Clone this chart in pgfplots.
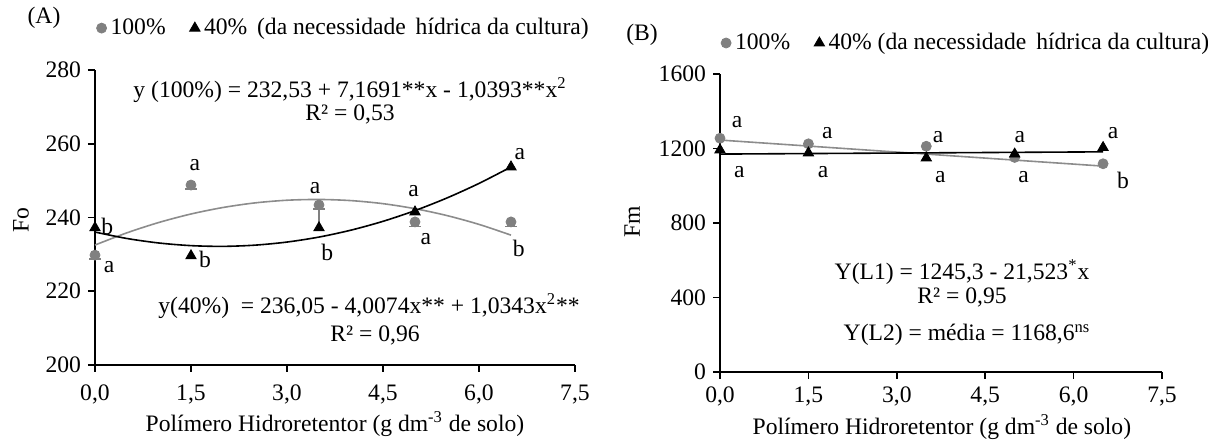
\documentclass[border=0pt]{standalone}
\usepackage{fontspec}
\setmainfont{Liberation Serif}
\usepackage{pgfplots}
\pgfplotsset{compat=1.18}

\definecolor{ptgray}{RGB}{128,128,128}
\definecolor{lngray}{RGB}{140,140,140}

\newcommand{\fs}{\fontsize{11.8}{14}\selectfont}

\pgfplotsset{
  painel/.style={
    scale only axis,
    anchor=south west,
    axis lines*=left,
    axis line style={line width=0.8pt},
    tick style={line width=0.8pt, black},
    tick align=outside,
    major tick length=3.5pt,
    xmin=0, xmax=7.5,
    xtick={0,1.5,3,4.5,6,7.5},
    xticklabels={{0,0},{1,5},{3,0},{4,5},{6,0},{7,5}},
    clip=false,
    font=\fs,
    ticklabel style={font=\fs},
    /pgf/number format/assume math mode=true,
    /pgf/number format/1000 sep={},
    legend columns=2,
    legend style={draw=none, fill=none, anchor=west, font=\fs,
      /tikz/every even column/.append style={column sep=10pt}},
    legend cell align=left,
    xlabel={Polímero Hidroretentor (g dm\textsuperscript{-3} de solo)},
  },
  circ/.style={only marks, mark=*, mark size=2.5pt, color=ptgray},
  tri/.style={only marks, mark=triangle*, mark size=3pt, color=black},
}

\begin{document}
\begin{tikzpicture}
\useasboundingbox (0,0) rectangle (604pt,221pt);

% ---------- (A) Fo ----------
\begin{axis}[painel,
  at={(47.5pt,38.5pt)}, width=240pt, height=147.5pt,
  ymin=200, ymax=280, ytick={200,220,240,260,280},
  xticklabel style={yshift=-3pt},
  ylabel={Fo},
  every axis y label/.style={at={(axis description cs:-0.154,0.49)}, rotate=90, anchor=center},
  every axis x label/.style={at={(axis description cs:0.5,-0.2)}, anchor=center},
  legend style={at={(axis description cs:-0.01,1.142)}},
]
% linhas de tendencia
\addplot[lngray, line width=0.8pt, smooth, forget plot] coordinates {
  (0,232.53) (0.5,235.85) (1,238.66) (1.5,240.95) (2,242.71) (2.5,243.96)
  (3,244.68) (3.5,244.89) (4,244.58) (4.5,243.75) (5,242.39) (5.5,240.52)
  (6,238.13) (6.5,235.22)
};
\addplot[black, line width=0.8pt, smooth, forget plot] coordinates {
  (0,236.05) (0.5,234.30) (1,233.08) (1.5,232.37) (2,232.17) (2.5,232.50)
  (3,233.34) (3.5,234.69) (4,236.57) (4.5,238.96) (5,241.87) (5.5,245.30)
  (6,249.24) (6.5,253.70)
};
% pontos
\addplot[circ, error bars/.cd, y dir=minus, y explicit,
  error mark options={rotate=90, mark size=3pt, line width=0.8pt},
  error bar style={line width=0.8pt}] coordinates {
  (0,229.8) +- (0,1.1)
  (1.5,248.8) +- (0,1.1)
  (3.5,243.4) +- (0,1.1)
  (5,238.8) +- (0,1.2)
  (6.5,238.8) +- (0,1.2)
};
\addlegendentry{100\%}
\addplot[tri, error bars/.cd, y dir=plus, y explicit, error mark=none,
  error bar style={ptgray, line width=0.8pt}] coordinates {
  (0,237.2) +- (0,0)
  (1.5,229.6) +- (0,0)
  (3.5,237.2) +- (0,5.1)
  (5,241.5) +- (0,0)
  (6.5,253.7) +- (0,0)
};
\addlegendentry{40\% \,(da necessidade \,hídrica da cultura)}
% letras
\node at (axis cs:0.22,226.6) {a};
\node at (axis cs:0.19,237.7) {b};
\node at (axis cs:1.56,254.2) {a};
\node at (axis cs:1.72,228.7) {b};
\node at (axis cs:3.44,248.0) {a};
\node at (axis cs:3.63,230.6) {b};
\node at (axis cs:4.98,247.2) {a};
\node at (axis cs:5.17,234.2) {a};
\node at (axis cs:6.64,257.2) {a};
\node at (axis cs:6.62,231.5) {b};
\end{axis}

% ---------- (B) Fm ----------
\begin{axis}[painel,
  at={(360pt,35pt)}, width=221pt, height=149pt,
  ymin=0, ymax=1600, ytick={0,400,800,1200,1600},
  xticklabel style={yshift=-0.5pt},
  ylabel={Fm},
  every axis y label/.style={at={(axis description cs:-0.199,0.503)}, rotate=90, anchor=center},
  every axis x label/.style={at={(axis description cs:0.502,-0.185)}, anchor=center},
  legend style={at={(axis description cs:-0.012,1.104)}},
]
\addplot[lngray, line width=0.8pt, forget plot] coordinates {(0,1245.3) (6.5,1105.4)};
\addplot[black, line width=0.8pt, forget plot] coordinates {(0,1170) (6.5,1182)};
\addplot[circ] coordinates {
  (0,1255) (1.5,1225) (3.5,1212) (5,1152) (6.5,1118)
};
\addlegendentry{100\%}
\addplot[tri] coordinates {
  (0,1192) (1.5,1176) (3.5,1149) (5,1170) (6.5,1205)
};
\addlegendentry{40\% (da necessidade \,hídrica da cultura)}
\node at (axis cs:0.29,1342) {a};
\node at (axis cs:1.82,1283) {a};
\node at (axis cs:3.70,1262) {a};
\node at (axis cs:5.09,1262) {a};
\node at (axis cs:6.67,1283) {a};
\node at (axis cs:0.33,1074) {a};
\node at (axis cs:1.75,1074) {a};
\node at (axis cs:3.74,1047) {a};
\node at (axis cs:5.15,1047) {a};
\node at (axis cs:6.84,1031) {b};
\end{axis}

% ---------- textos ----------
\begin{scope}[font=\fs]
\node at (22pt,212pt) {(A)};
\node at (321pt,203.5pt) {(B)};
\node at (175pt,176pt) {y (100\%) = 232,53 + 7,1691**x - 1,0393**x\textsuperscript{2}};
\node at (175pt,164pt) {R² = 0,53};
\node at (184.5pt,68pt) {y(40\%) \ = 236,05 - 4,0074x** + 1,0343x\textsuperscript{2}**};
\node at (187.5pt,53.5pt) {R² = 0,96};
\node at (481pt,85pt) {Y(L1) = 1245,3 - 21,523\textsuperscript{*}x};
\node at (481pt,72.5pt) {R² = 0,95};
\node at (483.5pt,53.5pt) {Y(L2) = média = 1168,6\textsuperscript{ns}};
\end{scope}
\end{tikzpicture}
\end{document}
